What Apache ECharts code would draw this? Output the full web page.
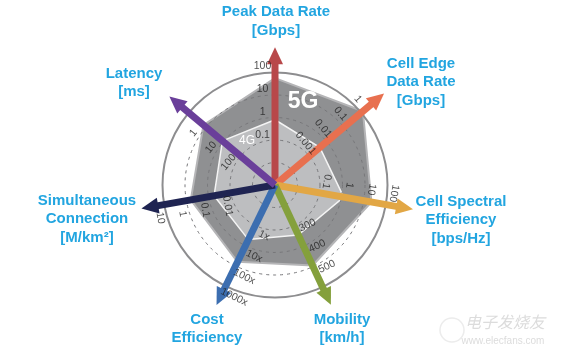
<!DOCTYPE html>
<html><head><meta charset="utf-8">
<script src="https://cdn.jsdelivr.net/npm/echarts@6/dist/echarts.min.js"></script>
<style>html,body{margin:0;padding:0;background:#fff}#c{width:561px;height:355px}</style>
</head><body><div id="c"></div>
<script>
// ---- data ----
const axisNames = ['Peak Data Rate\n[Gbps]', 'Cell Edge\nData Rate\n[Gbps]', 'Cell Spectral\nEfficiency\n[bps/Hz]', 'Mobility\n[km/h]', 'Cost\nEfficiency', 'Simultaneous\nConnection\n[M/km²]', 'Latency\n[ms]'];
const axisAngles = [90, 40, 350, 295, 244, 190, 140];
const axisColors = ['#b8484a', '#e8704f', '#e2a745', '#84a03c', '#3c6eb0', '#1f2452', '#6a3f9a'];
const arrowLength = [5.75, 5.95, 5.85, 5.5, 5.55, 5.65, 5.75];
const values5G = [4.75, 5.1, 4.35, 3.95, 3.8, 3.8, 4.15];
const values4G = [2.9, 2.6, 3.1, 2.45, 2.7, 2.75, 3.05];
const tickLabels = [
  ['0.1', '1', '10', '100'],
  ['0.001', '0.01', '0.1', '1'],
  ['0.1', '1', '10', '100'],
  ['300', '400', '500'],
  ['1x', '10x', '100x', '1000x'],
  ['0.01', '0.1', '1', '10'],
  ['100', '10', '1']
];
const firstTick = 2;
const labelFlip = [false, false, false, true, true, true, false];

// ---- layout / style ----
const CX = 275, CY = 185, UNIT = 22.5, RMAX = 7.5;
const namePos = [[276, 21.5], [421, 82], [461, 220], [342, 329], [207, 329], [87, 219], [134, 83]];

function polygon(vals) {
  const d = vals.map((v, i) => [v, axisAngles[i]]);
  d.push(d[0]);
  return d;
}

const series = [];
series.push({
  type: 'line', coordinateSystem: 'polar', polarIndex: 0, z: 2, clip: false,
  data: polygon(values5G), symbol: 'none', smooth: false,
  lineStyle: { color: '#b5b5b7', width: 2 },
  areaStyle: { color: '#8f9092', opacity: 1 }
});
series.push({
  type: 'line', coordinateSystem: 'polar', polarIndex: 0, z: 3, clip: false,
  data: polygon(values4G), symbol: 'none', smooth: false,
  lineStyle: { color: '#f4f4f4', width: 1.5 },
  areaStyle: { color: '#bdbec0', opacity: 1 }
});
axisAngles.forEach((a, i) => {
  series.push({
    type: 'line', coordinateSystem: 'polar', polarIndex: 0, z: 20, clip: false,
    data: [
      { value: [0, a], symbol: 'none' },
      { value: [arrowLength[i], a], symbol: 'triangle', symbolSize: [16, 17], symbolRotate: a - 90 }
    ],
    lineStyle: { color: axisColors[i], width: 7, cap: 'butt' },
    itemStyle: { color: axisColors[i] },
    emphasis: { disabled: true }, silent: true
  });
});
const tickData = [];
tickLabels.forEach((labs, i) => {
  labs.forEach((t, j) => {
    const r = firstTick + j + 0.3;
    const dAng = (12.5 / (r * UNIT)) * 180 / Math.PI;
    const a = axisAngles[i];
    tickData.push({
      name: t, value: [r, a + dAng],
      label: { rotate: labelFlip[i] ? a + 90 : a - 90 }
    });
  });
});
series.push({
  type: 'scatter', coordinateSystem: 'polar', polarIndex: 0, z: 25, clip: false,
  symbolSize: 1, itemStyle: { color: 'rgba(0,0,0,0)' }, silent: true,
  data: tickData,
  label: { show: true, position: 'inside', formatter: p => p.name, color: '#1e1e1e',
    fontSize: 10.5, fontFamily: 'Liberation Sans, Arial, sans-serif' }
});

const dashColors = ['rgba(0,0,0,0)', '#77777a', '#77777a', '#77777a', '#77777a',
  'rgba(0,0,0,0)', 'rgba(0,0,0,0)', 'rgba(0,0,0,0)', 'rgba(0,0,0,0)', 'rgba(0,0,0,0)'];

const graphics = axisNames.map((n, i) => ({
  type: 'text', x: namePos[i][0], y: namePos[i][1], z: 30,
  style: { text: n, fill: '#22a5e0', font: 'bold 15px "Liberation Sans", Arial, sans-serif',
    align: 'center', verticalAlign: 'middle', lineHeight: 18.5 }
}));
graphics.push({ type: 'text', x: 303, y: 102, z: 30,
  style: { text: '5G', fill: '#ffffff', font: 'bold 23px "Liberation Sans", Arial, sans-serif',
    align: 'center', verticalAlign: 'middle', shadowColor: 'rgba(0,0,0,0.5)', shadowBlur: 3, shadowOffsetX: 1, shadowOffsetY: 1 } });
graphics.push({ type: 'text', x: 247, y: 141, z: 30,
  style: { text: '4G', fill: '#ffffff', font: '12px "Liberation Sans", Arial, sans-serif',
    align: 'center', verticalAlign: 'middle' } });
graphics.push({ type: 'circle', shape: { cx: 452, cy: 330, r: 12 }, z: 1,
  style: { fill: 'none', stroke: '#ececec', lineWidth: 1.5 } });
graphics.push({ type: 'text', x: 505, y: 322, z: 1,
  style: { text: '电子发烧友', fill: '#dcdcdc', font: 'italic 16px "Noto Sans CJK SC", sans-serif', align: 'center', verticalAlign: 'middle' } });
graphics.push({ type: 'text', x: 503, y: 341, z: 1,
  style: { text: 'www.elecfans.com', fill: '#dcdcdc', font: '10px "Liberation Sans", Arial, sans-serif', align: 'center', verticalAlign: 'middle' } });

const chart = echarts.init(document.getElementById('c'));
chart.setOption({
  animation: false,
  backgroundColor: '#ffffff',
  polar: [
    { center: [CX, CY], radius: UNIT * RMAX },
    { center: [CX, CY], radius: UNIT * 5 }
  ],
  angleAxis: [
    { polarIndex: 0, type: 'value', min: 0, max: 360, startAngle: 0, clockwise: false,
      axisLine: { show: false }, axisTick: { show: false }, axisLabel: { show: false }, splitLine: { show: false } },
    { polarIndex: 1, type: 'value', min: 0, max: 360, startAngle: 0, clockwise: false, z: 5,
      axisLine: { show: true, lineStyle: { color: '#8d8d8f', width: 2 } },
      axisTick: { show: false }, axisLabel: { show: false }, splitLine: { show: false } }
  ],
  radiusAxis: [
    { polarIndex: 0, type: 'value', min: 0, max: RMAX, interval: 1, z: 6,
      axisLine: { show: false }, axisTick: { show: false }, axisLabel: { show: false },
      splitLine: { show: true, lineStyle: { color: dashColors, width: 1, type: [3, 4] } } },
    { polarIndex: 1, type: 'value', min: 0, max: 5, show: false }
  ],
  series: series,
  graphic: graphics
});
</script>
</body></html>
